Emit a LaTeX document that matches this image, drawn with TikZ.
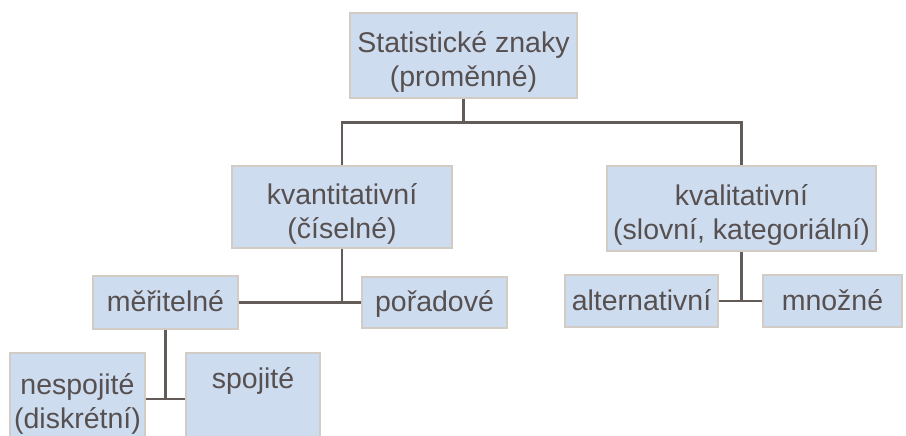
\documentclass[tikz,border=0pt]{standalone}
\usepackage{fontspec}
\setmainfont{Liberation Sans}
\usetikzlibrary{positioning}
\definecolor{boxblue}{HTML}{CEDCEF}
\definecolor{boxedge}{HTML}{D2CCC4}
\definecolor{txtgray}{HTML}{575050}
\definecolor{linkgray}{HTML}{625B57}

\tikzset{
  box/.style={draw=boxedge,fill=boxblue,line width=1.4pt,text=txtgray,
    align=center,inner sep=0pt,font=\fontsize{28.5}{34}\selectfont},
  oneline/.style={text height=23pt,text depth=5pt},
  twoline/.style={text height=67pt,text depth=5pt},
  link/.style={draw=linkgray,line width=2.4pt}
}

\begin{document}
\begin{tikzpicture}[x=1pt,y=-1pt]

  \useasboundingbox (0,0) rectangle (906,436);

  % --- boxes ---
  \node[box,twoline,minimum width=227pt,minimum height=85pt] (root) at (463.5,55.5)
        {Statistické znaky\\(proměnné)};
  \node[box,twoline,minimum width=220pt,minimum height=82pt] (kvant) at (342,207)
        {kvantitativní\\(číselné)};
  \node[box,twoline,minimum width=269pt,minimum height=85pt] (kval) at (741.5,208.5)
        {kvalitativní\\(slovní, kategoriální)};

  \node[box,oneline,minimum width=145pt,minimum height=53pt] (meri) at (165.5,302.5)
        {měřitelné};
  \node[box,oneline,minimum width=145pt,minimum height=51pt] (porad) at (434.5,302.5)
        {pořadové};
  \node[box,oneline,minimum width=153pt,minimum height=52pt] (alter) at (641.5,301)
        {alternativní};
  \node[box,oneline,minimum width=139pt,minimum height=52pt] (mnoz) at (832.5,301)
        {množné};

  \node[box,text height=63pt,text depth=5pt,minimum width=135pt,minimum height=92pt]
        (nesp) at (77.5,399) {nespojité\\(diskrétní)};
  \node[box,text height=23pt,text depth=44pt,minimum width=134pt,minimum height=92pt]
        (spoj) at (253,399) {spojité};

  % --- connectors ---
  \draw[link] (root.south) -- ++(0,24) -| (kvant.north);
  \draw[link] (root.south) -- ++(0,24) -| (kval.north);

  \draw[link] (meri.east) -- (porad.west);
  \draw[link] (kvant.south) -- (kvant.south |- porad.west);

  \draw[link] (alter.east) -- (mnoz.west);
  \draw[link] (kval.south) -- (kval.south |- mnoz.west);

  \draw[link] (nesp.east) -- (spoj.west);
  \draw[link] (meri.south) -- (meri.south |- spoj.west);

\end{tikzpicture}
\end{document}
